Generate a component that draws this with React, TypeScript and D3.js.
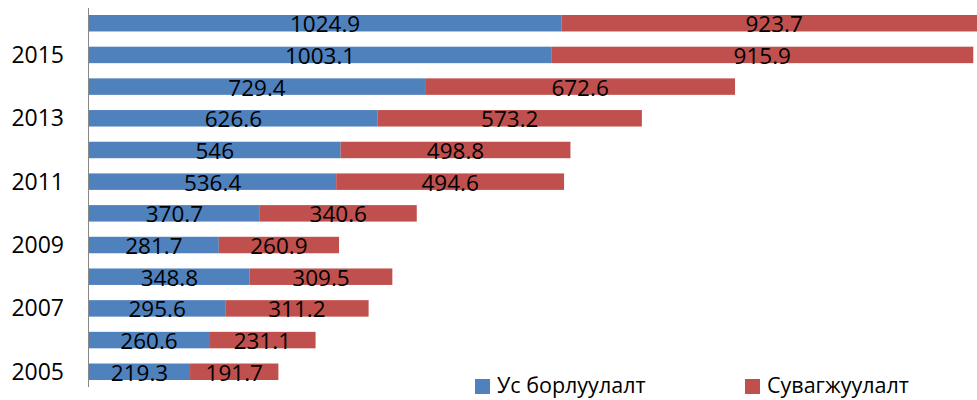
import React, { useEffect, useRef } from "react";
import * as d3 from "d3";

const years = [2005, 2006, 2007, 2008, 2009, 2010, 2011, 2012, 2013, 2014, 2015, 2016];
const salesValues = [219.3, 260.6, 295.6, 348.8, 281.7, 370.7, 536.4, 546, 626.6, 729.4, 1003.1, 1024.9];
const sewerValues = [191.7, 231.1, 311.2, 309.5, 260.9, 340.6, 494.6, 498.8, 573.2, 672.6, 915.9, 923.7];
const tickYears = [2005, 2007, 2009, 2011, 2013, 2015];
const seriesNames = ["Ус борлуулалт", "Сувагжуулалт"];
const seriesColors = ["#4F81BD", "#C0504D"];

const width = 977;
const height = 400;
const font = "'Open Sans', Lato, sans-serif";

const App = () => {
  const ref = useRef<SVGSVGElement>(null);

  useEffect(() => {
    const svg = d3.select(ref.current);
    svg.selectAll("*").remove();

    const x = d3.scaleLinear().domain([0, 2000]).range([89, 89 + 2000 * 0.4608]);
    const y = d3
      .scaleBand<number>()
      .domain([...years].reverse())
      .range([7.4, 387.6])
      .paddingInner(0.48)
      .paddingOuter(0.24);

    const rows = years.map((yr, i) => ({ year: yr, values: [salesValues[i], sewerValues[i]] }));
    const stack = d3
      .stack<any>()
      .keys(["0", "1"])
      .value((d, k) => d.values[+k]);
    const layers = stack(rows);

    layers.forEach((layer, li) => {
      const g = svg.append("g");
      g.selectAll("rect")
        .data(layer)
        .enter()
        .append("rect")
        .attr("x", (d) => x(d[0]))
        .attr("y", (d) => y(d.data.year)!)
        .attr("width", (d) => x(d[1]) - x(d[0]))
        .attr("height", y.bandwidth())
        .attr("fill", seriesColors[li]);
      g.selectAll("text")
        .data(layer)
        .enter()
        .append("text")
        .attr("x", (d) => (x(d[0]) + x(d[1])) / 2)
        .attr("y", (d) => y(d.data.year)! + y.bandwidth() / 2 + 9)
        .attr("text-anchor", "middle")
        .style("font-family", font)
        .style("font-size", "22.5px")
        .style("fill", "#000")
        .text((d) => String(d.data.values[li]));
    });

    // axis line
    svg
      .append("line")
      .attr("x1", 88.5)
      .attr("x2", 88.5)
      .attr("y1", 8)
      .attr("y2", 387)
      .attr("stroke", "#888")
      .attr("stroke-width", 1);

    svg
      .append("g")
      .selectAll("text")
      .data(tickYears)
      .enter()
      .append("text")
      .attr("x", 64)
      .attr("y", (d) => y(d)! + y.bandwidth() / 2 + 8)
      .attr("text-anchor", "end")
      .style("font-family", font)
      .style("font-size", "23px")
      .style("fill", "#000")
      .text((d) => d);

    const legendX = [475, 745];
    const legend = svg.append("g");
    seriesNames.forEach((name, i) => {
      legend
        .append("rect")
        .attr("x", legendX[i])
        .attr("y", 379)
        .attr("width", 15)
        .attr("height", 15)
        .attr("fill", seriesColors[i]);
      legend
        .append("text")
        .attr("x", legendX[i] + 22)
        .attr("y", 393)
        .style("font-family", font)
        .style("font-size", "21.5px")
        .style("fill", "#000")
        .text(name);
    });
  }, []);

  return (
    <svg
      ref={ref}
      width={width}
      height={height}
      style={{ position: "absolute", left: 0, top: 0, background: "#fff" }}
    />
  );
};

export default App;
